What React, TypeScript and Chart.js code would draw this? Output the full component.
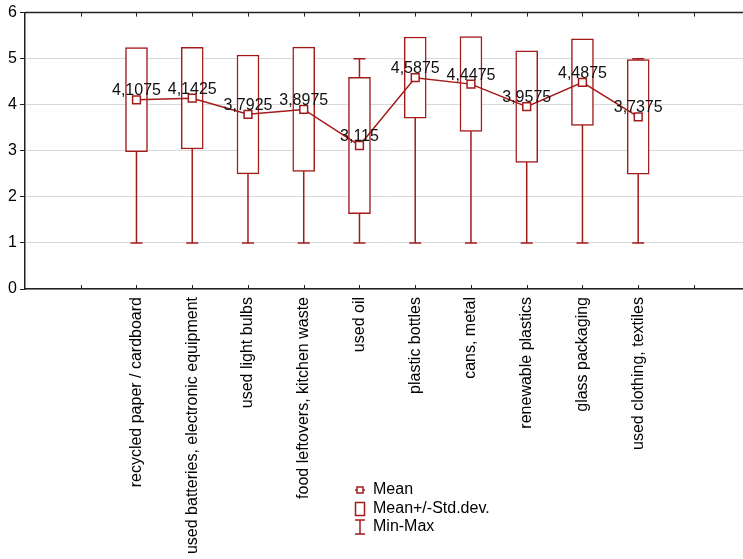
import React, { useEffect, useRef } from 'react';
import { Chart, registerables } from 'chart.js';

Chart.register(...registerables);

const categories = [
  'recycled paper / cardboard',
  'used batteries, electronic equipment',
  'used light bulbs',
  'food leftovers, kitchen waste',
  'used oil',
  'plastic bottles',
  'cans, metal',
  'renewable plastics',
  'glass packaging',
  'used clothing, textiles',
];
const xPositions = [2, 3, 4, 5, 6, 7, 8, 9, 10, 11];
const xTickValues = [1, 2, 3, 4, 5, 6, 7, 8, 9, 10, 11, 12];
const means = [4.1075, 4.1425, 3.7925, 3.8975, 3.115, 4.5875, 4.4475, 3.9575, 4.4875, 3.7375];
const sdLow = [2.98, 3.04, 2.5, 2.55, 1.635, 3.71, 3.42, 2.75, 3.55, 2.49];
const sdHigh = [5.24, 5.245, 5.08, 5.25, 4.595, 5.47, 5.48, 5.17, 5.43, 4.98];
const mins = [1, 1, 1, 1, 1, 1, 1, 1, 1, 1];
const maxs = [5, 5, 5, 5, 5, 5, 5, 5, 5, 5];
const legendLabels = ['Mean', 'Mean+/-Std.dev.', 'Min-Max'];

const RED = '#a31a1a';
const FONT = '"Liberation Sans", Arial, sans-serif';

const whiskerPlugin = {
  id: 'whiskers',
  beforeDatasetsDraw(chart: any) {
    const { ctx } = chart;
    const x = chart.scales.x;
    const y = chart.scales.y;
    ctx.save();
    ctx.strokeStyle = RED;
    ctx.lineWidth = 1.5;
    xPositions.forEach((p, i) => {
      const px = x.getPixelForValue(p);
      const y0 = y.getPixelForValue(mins[i]);
      const y1 = y.getPixelForValue(maxs[i]);
      ctx.beginPath();
      ctx.moveTo(px, y0);
      ctx.lineTo(px, y1);
      ctx.moveTo(px - 6, y0);
      ctx.lineTo(px + 6, y0);
      ctx.moveTo(px - 6, y1);
      ctx.lineTo(px + 6, y1);
      ctx.stroke();
    });
    ctx.restore();
  },
};

const frameAndLabelsPlugin = {
  id: 'frameLabels',
  afterDatasetsDraw(chart: any) {
    const { ctx, chartArea } = chart;
    const x = chart.scales.x;
    const y = chart.scales.y;
    ctx.save();
    ctx.strokeStyle = '#222';
    ctx.lineWidth = 1.5;
    ctx.beginPath();
    ctx.moveTo(chartArea.left, chartArea.top);
    ctx.lineTo(chartArea.right, chartArea.top);
    ctx.stroke();
    ctx.lineWidth = 1;
    ctx.beginPath();
    xTickValues.forEach((v) => {
      const px = Math.round(x.getPixelForValue(v)) + 0.5;
      ctx.moveTo(px, chartArea.top);
      ctx.lineTo(px, chartArea.top + 4);
      ctx.moveTo(px, chartArea.bottom);
      ctx.lineTo(px, chartArea.bottom - 4);
    });
    ctx.stroke();
    ctx.fillStyle = '#111';
    ctx.font = '16px ' + FONT;
    ctx.textAlign = 'center';
    ctx.textBaseline = 'middle';
    xPositions.forEach((p, i) => {
      const px = x.getPixelForValue(p);
      const py = y.getPixelForValue(means[i]);
      ctx.fillText(String(means[i]).replace('.', ','), px, py - 9);
    });
    ctx.restore();
  },
};

const legendPlugin = {
  id: 'customLegend',
  afterDraw(chart: any) {
    const { ctx } = chart;
    ctx.save();
    const ix = 360;
    const tx = 373;
    const rows = [490, 509, 527];
    ctx.strokeStyle = RED;
    ctx.lineWidth = 1.5;
    ctx.beginPath();
    ctx.moveTo(ix - 5, rows[0]);
    ctx.lineTo(ix + 5, rows[0]);
    ctx.stroke();
    ctx.fillStyle = '#fff';
    ctx.fillRect(ix - 3, rows[0] - 3, 6, 6);
    ctx.strokeRect(ix - 3, rows[0] - 3, 6, 6);
    ctx.strokeRect(ix - 4.5, rows[1] - 6.5, 9, 13);
    ctx.beginPath();
    ctx.moveTo(ix, rows[2] - 7);
    ctx.lineTo(ix, rows[2] + 7);
    ctx.moveTo(ix - 5, rows[2] - 7);
    ctx.lineTo(ix + 5, rows[2] - 7);
    ctx.moveTo(ix - 5, rows[2] + 7);
    ctx.lineTo(ix + 5, rows[2] + 7);
    ctx.stroke();
    ctx.fillStyle = '#000';
    ctx.font = '16px ' + FONT;
    ctx.textAlign = 'left';
    ctx.textBaseline = 'middle';
    legendLabels.forEach((l, i) => ctx.fillText(l, tx, rows[i]));
    ctx.restore();
  },
};

export default function App() {
  const ref = useRef<HTMLCanvasElement | null>(null);
  useEffect(() => {
    if (!ref.current) return;
    const chart = new Chart(ref.current, {
      type: 'bar',
      data: {
        datasets: [
          {
            type: 'line',
            order: 0,
            data: xPositions.map((p, i) => ({ x: p, y: means[i] })),
            borderColor: RED,
            borderWidth: 1.5,
            pointStyle: 'rect',
            pointRadius: 5.5,
            pointBackgroundColor: '#fff',
            pointBorderColor: RED,
            pointBorderWidth: 1.5,
          } as any,
          {
            type: 'bar',
            order: 1,
            data: xPositions.map((p, i) => ({ x: p, y: [sdLow[i], sdHigh[i]] })),
            backgroundColor: '#fff',
            borderColor: RED,
            borderWidth: 1.5,
            borderSkipped: false,
            barThickness: 22,
          } as any,
        ],
      },
      options: {
        responsive: false,
        animation: false,
        layout: { autoPadding: false, padding: { top: 11, right: 0, left: 0, bottom: 0 } },
        plugins: { legend: { display: false }, tooltip: { enabled: false } },
        scales: {
          x: {
            type: 'linear',
            min: 0,
            max: 12.88,
            offset: false,
            grid: { display: false, offset: false },
            border: { display: true, color: '#222', width: 1.5 },
            afterBuildTicks: (s: any) => {
              s.ticks = xTickValues.map((v) => ({ value: v }));
            },
            afterFit: (s: any) => {
              s.height = 270;
              s.paddingLeft = 0;
              s.paddingRight = 0;
            },
            ticks: {
              autoSkip: false,
              minRotation: 90,
              maxRotation: 90,
              padding: 0,
              color: '#000',
              font: { size: 16, family: FONT },
              callback: (v: any) => {
                const idx = xPositions.indexOf(Number(v));
                return idx >= 0 ? categories[idx] : '';
              },
            },
          },
          y: {
            min: 0,
            max: 6,
            grid: { color: '#d9d9d9', lineWidth: 1, tickColor: '#222', tickLength: 5 },
            border: { display: true, color: '#222', width: 1.5 },
            afterFit: (s: any) => {
              s.width = 25;
            },
            ticks: {
              stepSize: 1,
              padding: 3,
              color: '#000',
              font: { size: 16, family: FONT },
            },
          },
        },
      },
      plugins: [whiskerPlugin, frameAndLabelsPlugin, legendPlugin],
    });
    return () => chart.destroy();
  }, []);
  return (
    <div style={{ position: 'absolute', left: 0, top: 0, width: 743, height: 559, background: '#fff' }}>
      <canvas ref={ref} width={743} height={559} style={{ display: 'block' }} />
    </div>
  );
}
